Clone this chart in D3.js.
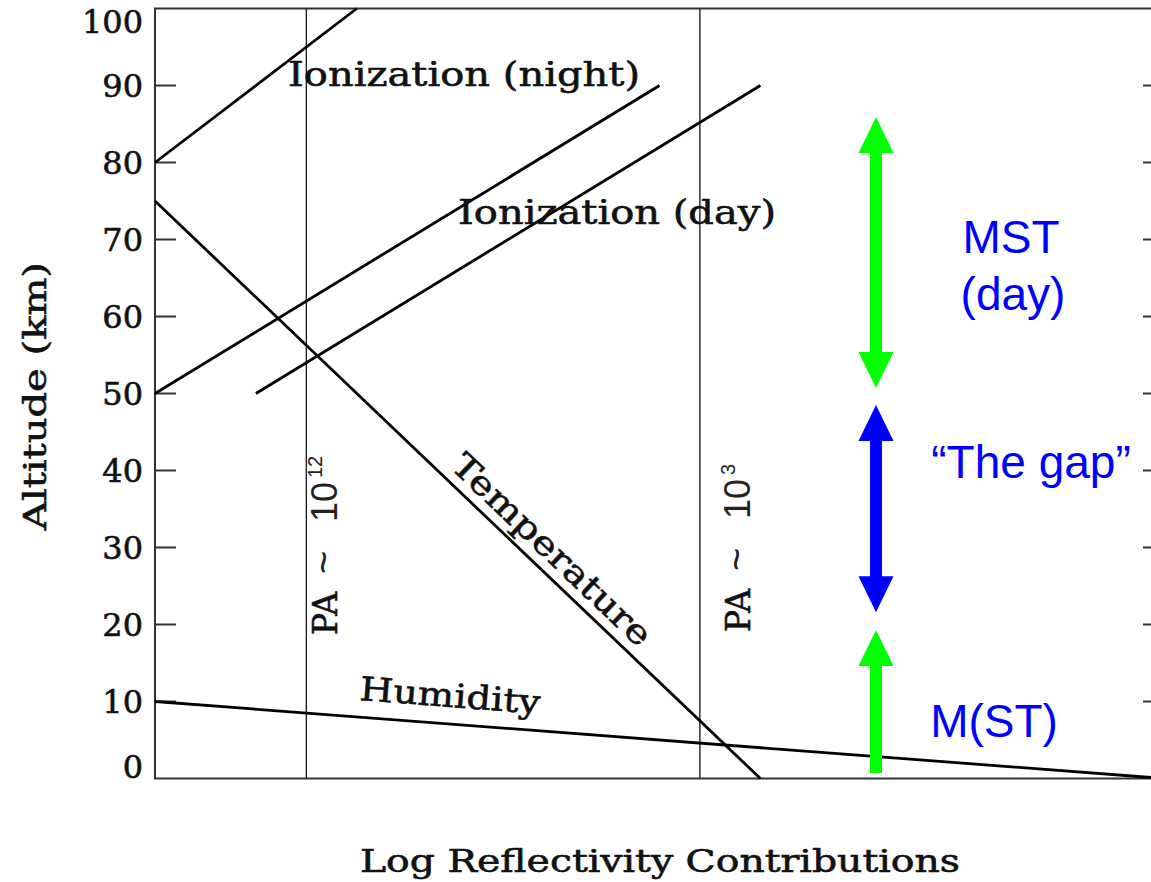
<!DOCTYPE html>
<html>
<head>
<meta charset="utf-8">
<script src="https://cdn.jsdelivr.net/npm/d3@7"></script>
<style>
  html, body { margin: 0; padding: 0; background: #fff; }
  svg { display: block; }
</style>
</head>
<body>
<svg id="chart" width="1151" height="882"></svg>
<script>
// Altitude axis ticks (km)
const altitudeTicks = [0, 10, 20, 30, 40, 50, 60, 70, 80, 90, 100];

// Reflectivity contribution lines: [log reflectivity (relative units), altitude km]
const ionizationUpper = [[0, 80], [20, 100]];
const ionizationMiddle = [[0, 50], [50, 90]];
const ionizationLower = [[10, 50], [60, 90]];
const temperatureLine = [[0, 75], [60, 0]];
const humidityLine = [[0, 10], [100, 0]];

// Partial-reflection ratio markers
const paPositions = [15, 54];
const paExponents = ["12", "3"];

// Altitude ranges covered by each radar regime
const regimeNames = ["MST (day)", "The gap", "M(ST)"];
const regimeFrom = [50.7, 21.6, 0.7];
const regimeTo = [85.9, 48.5, 19.3];
const regimeDouble = [true, true, false];
const regimeColors = ["#00ff00", "#0000ff", "#00ff00"];

const svg = d3.select("#chart");
const plot = { left: 155, right: 1164, top: 8.5, bottom: 778.5 };

const x = d3.scaleLinear().domain([0, 100]).range([plot.left, plot.right]);
const y = d3.scaleLinear().domain([0, 100]).range([plot.bottom, plot.top]);

const serif = "'DejaVu Serif', 'Liberation Serif', serif";
const sans = "'Liberation Sans', Arial, sans-serif";

// Serif text gets a hairline outline for a slightly heavier look
function serifText(sel, size) {
  return sel.attr("font-family", serif).attr("font-size", size)
    .attr("fill", "#111").attr("stroke", "#111").attr("stroke-width", 0.6);
}

// Frame (left, top, bottom; right side runs off the page)
const frame = svg.append("g").attr("stroke", "#333").attr("stroke-width", 2).attr("fill", "none");
frame.append("path").attr("d", `M${x(100)},${y(100)} H${x(0)} V${y(0)} H${x(100)}`);

// Inward ticks on left and right
const tickLen = 21;
const ticks = svg.append("g").attr("stroke", "#333").attr("stroke-width", 2);
altitudeTicks.filter(t => t > 0 && t < 100).forEach(t => {
  ticks.append("line").attr("x1", x(0)).attr("x2", x(0) + tickLen).attr("y1", y(t)).attr("y2", y(t));
  ticks.append("line").attr("x1", x(100) - tickLen).attr("x2", x(100)).attr("y1", y(t)).attr("y2", y(t));
});

// Tick labels, kept inside the frame height at both ends
serifText(svg.append("g").selectAll("text").data(altitudeTicks).join("text")
  .attr("x", 143)
  .attr("y", d => Math.min(Math.max(y(d), 21.5), 766.5))
  .attr("dy", "0.36em")
  .attr("text-anchor", "end"), 32)
  .text(d => d);

// Axis titles
serifText(svg.append("text")
  .attr("transform", "translate(46,396) rotate(-90)")
  .attr("text-anchor", "middle")
  .attr("textLength", 268).attr("lengthAdjust", "spacingAndGlyphs"), 31)
  .text("Altitude (km)");

serifText(svg.append("text")
  .attr("x", 360).attr("y", 872)
  .attr("textLength", 600).attr("lengthAdjust", "spacingAndGlyphs"), 31)
  .text("Log Reflectivity Contributions");

// PA marker verticals
const paLabelX = [337, 750];
const paLabelY = [635, 632];
paPositions.forEach((p, i) => {
  svg.append("line")
    .attr("x1", x(p)).attr("x2", x(p)).attr("y1", y(100)).attr("y2", y(0))
    .attr("stroke", "#222").attr("stroke-width", 1.4);
  const t = svg.append("text")
    .attr("transform", `translate(${paLabelX[i]},${paLabelY[i]}) rotate(-90)`)
    .attr("fill", "#111");
  serifText(t.append("tspan").attr("x", 0), 33).text("PA");
  t.append("tspan").attr("x", 61).attr("font-family", sans).attr("font-size", 40).attr("fill", "#222").text("~");
  t.append("tspan").attr("x", 113).attr("font-family", sans).attr("font-size", 36).attr("fill", "#222").text("10");
  t.append("tspan").attr("x", 157).attr("dy", -15).attr("font-family", sans).attr("font-size", 20)
    .attr("fill", "#222").text(paExponents[i]);
});

// Contribution lines
const line = d3.line().x(d => x(d[0])).y(d => y(d[1]));
[ionizationUpper, ionizationMiddle, ionizationLower, temperatureLine, humidityLine].forEach(d => {
  svg.append("path").datum(d).attr("d", line)
    .attr("fill", "none").attr("stroke", "#000").attr("stroke-width", 2.8);
});

// Line labels
function lineAngle(d) {
  return Math.atan2(y(d[1][1]) - y(d[0][1]), x(d[1][0]) - x(d[0][0])) * 180 / Math.PI;
}
serifText(svg.append("text")
  .attr("x", 288).attr("y", 86)
  .attr("textLength", 352).attr("lengthAdjust", "spacingAndGlyphs"), 34)
  .text("Ionization (night)");
serifText(svg.append("text")
  .attr("x", 458).attr("y", 224)
  .attr("textLength", 318).attr("lengthAdjust", "spacingAndGlyphs"), 34)
  .text("Ionization (day)");

const tAng = lineAngle(temperatureLine);
serifText(svg.append("text")
  .attr("transform", `translate(544,558) rotate(${tAng})`)
  .attr("text-anchor", "middle")
  .attr("textLength", 262).attr("lengthAdjust", "spacingAndGlyphs"), 33)
  .text("Temperature");

const hAng = lineAngle(humidityLine);
serifText(svg.append("text")
  .attr("transform", `translate(359,700) rotate(${hAng})`)
  .attr("textLength", 181).attr("lengthAdjust", "spacingAndGlyphs"), 33)
  .text("Humidity");

// Regime arrows
const arrowX = 876, shaftHalf = 6, headHalf = 17.5, headLen = 36;
function arrowPath(from, to, dbl) {
  const yt = y(to), yb = y(from);
  const p = d3.path();
  p.moveTo(arrowX, yt);
  p.lineTo(arrowX + headHalf, yt + headLen);
  p.lineTo(arrowX + shaftHalf, yt + headLen);
  if (dbl) {
    p.lineTo(arrowX + shaftHalf, yb - headLen);
    p.lineTo(arrowX + headHalf, yb - headLen);
    p.lineTo(arrowX, yb);
    p.lineTo(arrowX - headHalf, yb - headLen);
    p.lineTo(arrowX - shaftHalf, yb - headLen);
  } else {
    p.lineTo(arrowX + shaftHalf, yb);
    p.lineTo(arrowX - shaftHalf, yb);
  }
  p.lineTo(arrowX - shaftHalf, yt + headLen);
  p.lineTo(arrowX - headHalf, yt + headLen);
  p.closePath();
  return p.toString();
}
regimeNames.forEach((n, i) => {
  svg.append("path")
    .attr("d", arrowPath(regimeFrom[i], regimeTo[i], regimeDouble[i]))
    .attr("fill", regimeColors[i]);
});

// Regime labels
const blue = "#0000ff";
function blueText(txt, cx, by) {
  svg.append("text").attr("x", cx).attr("y", by)
    .attr("text-anchor", "middle")
    .attr("font-family", sans).attr("font-size", 46).attr("fill", blue)
    .text(txt);
}
blueText("MST", 1011, 253);
blueText("(day)", 1013, 310);
blueText("\u201CThe gap\u201D", 1031, 478);
blueText("M(ST)", 994, 737);
</script>
</body>
</html>
